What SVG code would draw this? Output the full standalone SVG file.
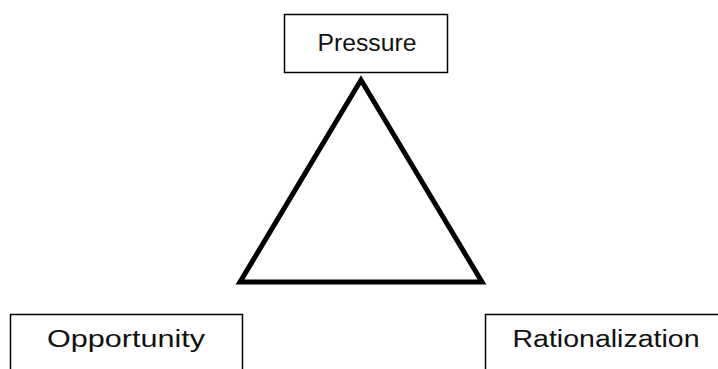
<svg xmlns="http://www.w3.org/2000/svg" width="718" height="369" viewBox="0 0 718 369">
<style>
.box{fill:#fff;stroke:#000;stroke-width:1.5}
.lbl{font-family:"Liberation Sans",Arial,sans-serif;font-size:23px;fill:#111;text-anchor:middle}
.tri{fill:none;stroke:#000;stroke-width:5;stroke-linejoin:miter}
</style>
<rect width="718" height="369" fill="#fff"/>
<g id="connectors">
<polygon class="tri" points="361,80 240,282 482,282"/>
</g>
<g id="pressure">
<rect class="box" x="284.5" y="14.5" width="163" height="58"/>
<text class="lbl" x="367" y="51" textLength="99" lengthAdjust="spacingAndGlyphs">Pressure</text>
</g>
<g id="opportunity">
<rect class="box" x="10.5" y="314.5" width="232" height="70"/>
<text class="lbl" x="126" y="347" textLength="158" lengthAdjust="spacingAndGlyphs">Opportunity</text>
</g>
<g id="rationalization">
<rect class="box" x="485.5" y="314.5" width="250" height="70"/>
<text class="lbl" x="606" y="347" textLength="187" lengthAdjust="spacingAndGlyphs">Rationalization</text>
</g>
</svg>
